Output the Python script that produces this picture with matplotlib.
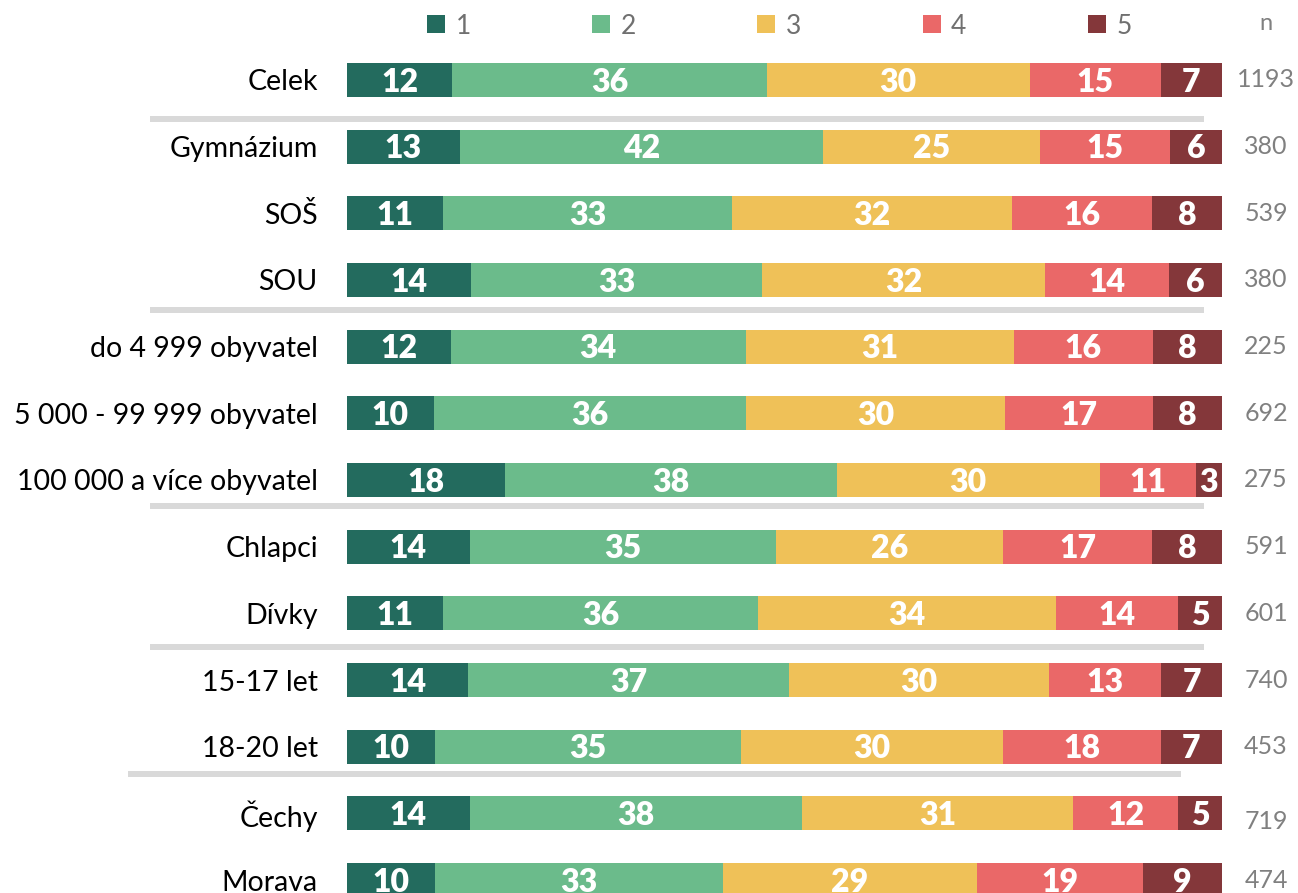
import numpy as np
import matplotlib.pyplot as plt
from matplotlib import transforms
from matplotlib.lines import Line2D

plt.rcParams['font.family'] = ['Lato', 'DejaVu Sans']

categories = ["Celek", "Gymnázium", "SOŠ", "SOU", "do 4 999 obyvatel",
              "5 000 - 99 999 obyvatel", "100 000 a více obyvatel",
              "Chlapci", "Dívky", "15-17 let", "18-20 let", "Čechy", "Morava"]
v1 = [12, 13, 11, 14, 12, 10, 18, 14, 11, 14, 10, 14, 10]
v2 = [36, 42, 33, 33, 34, 36, 38, 35, 36, 37, 35, 38, 33]
v3 = [30, 25, 32, 32, 31, 30, 30, 26, 34, 30, 30, 31, 29]
v4 = [15, 15, 16, 14, 16, 17, 11, 17, 14, 13, 18, 12, 19]
v5 = [7, 6, 8, 6, 8, 8, 3, 8, 5, 7, 7, 5, 9]
n_vals = [1193, 380, 539, 380, 225, 692, 275, 591, 601, 740, 453, 719, 474]
series_names = ["1", "2", "3", "4", "5"]
colors = ["#236B5E", "#6BBB8B", "#EFC158", "#EA6868", "#84373A"]

# group separators (row units)
sep_pos = [0.58, 3.45, 6.39, 8.5, 10.41]
sep_x = [(150, 1204), (150, 1204), (150, 1204), (150, 1204), (128, 1181)]

W, H = 1298, 893
fig = plt.figure(figsize=(W / 100, H / 100), dpi=100)
ax_left, ax_right = 347, 1222
top_px = 80 - 66.67 / 2
bot_px = 880 + 66.67 / 2
ax = fig.add_axes([ax_left / W, (H - bot_px) / H, (ax_right - ax_left) / W,
                   (bot_px - top_px) / H])

vals = np.array([v1, v2, v3, v4, v5], dtype=float)
totals = vals.sum(axis=0)
y = np.arange(len(categories))
left = np.zeros(len(categories))
handles = []
for i in range(5):
    w = vals[i] / totals * 100
    bars = ax.barh(y, w, left=left, height=0.51, color=colors[i], label=series_names[i])
    lbls = ax.bar_label(bars, labels=[str(int(v)) for v in vals[i]], label_type='center',
                        color='white', fontsize=23, fontweight='heavy')
    for t in lbls:
        t.xyann = (0, -1.5)
    handles.append(bars)
    left += w

ax.set_xlim(0, 100)
ax.set_ylim(len(categories) - 0.5, -0.5)
ax.set_yticks(y)
ax.set_yticklabels(categories, fontsize=20.5)
ax.tick_params(axis='y', length=0, pad=21)
ax.set_xticks([])
for s in ax.spines.values():
    s.set_visible(False)

# separators
sep_tr = transforms.blended_transform_factory(fig.transFigure, ax.transData)
for yp, (x0, x1) in zip(sep_pos, sep_x):
    ln = Line2D([x0 / W, x1 / W], [yp, yp], transform=sep_tr, color='#D9D9D9',
                linewidth=4.3, solid_capstyle='butt', clip_on=False)
    fig.add_artist(ln)

# n column
for yi, n in zip(y, n_vals):
    off = 0.12 if yi == 11 else 0.0
    ax.text(1266 / W, yi + off, str(n), transform=sep_tr, fontsize=18,
            color='#808080', ha='center', va='center', clip_on=False)
fig.text(1266 / W, 1 - 24 / H, "n", fontsize=17, color='#808080', ha='center', va='center')

leg = fig.legend(handles=handles, labels=series_names, loc='center left',
                 bbox_to_anchor=(427 / W, 1 - 26 / H), ncol=5, frameon=False,
                 fontsize=19, handlelength=0.68, handleheight=0.68,
                 handletextpad=0.4, columnspacing=4.6, borderaxespad=0,
                 borderpad=0)
for t in leg.get_texts():
    t.set_color('#707070')

fig.savefig("out.png", dpi=100)
